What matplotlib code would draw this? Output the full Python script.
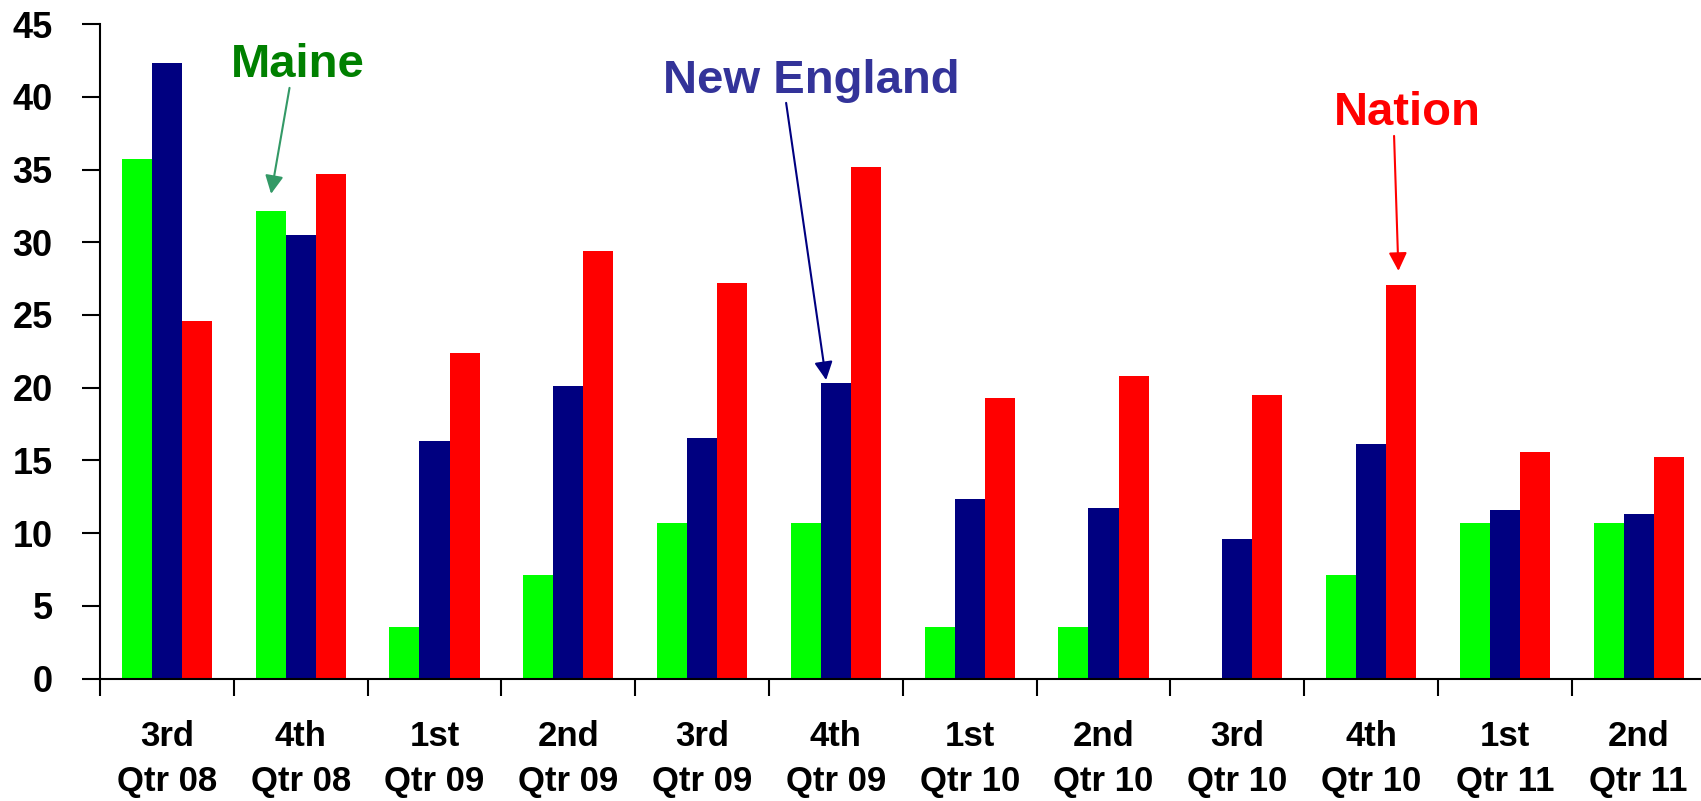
import numpy as np
import matplotlib.pyplot as plt

plt.rcParams['font.family'] = ['Liberation Sans', 'DejaVu Sans']
plt.rcParams['font.weight'] = 'bold'

quarters = ['3rd\nQtr 08', '4th\nQtr 08', '1st\nQtr 09', '2nd\nQtr 09', '3rd\nQtr 09', '4th\nQtr 09',
            '1st\nQtr 10', '2nd\nQtr 10', '3rd\nQtr 10', '4th\nQtr 10', '1st\nQtr 11', '2nd\nQtr 11']
maine = [35.71, 32.14, 3.57, 7.14, 10.71, 10.71, 3.57, 3.57, 0, 7.14, 10.71, 10.71]
new_england = [42.3, 30.47, 16.32, 20.14, 16.52, 20.34, 12.35, 11.71, 9.58, 16.1, 11.62, 11.3]
nation = [24.6, 34.7, 22.36, 29.4, 27.17, 35.15, 19.27, 20.78, 19.5, 27.04, 15.56, 15.24]
yticks = [0, 5, 10, 15, 20, 25, 30, 35, 40, 45]

fig = plt.figure(figsize=(17.01, 8.01), dpi=100)
ax = fig.add_axes([100 / 1701, 0.1527, 1605.6 / 1701, 0.8173])

x = np.arange(len(quarters))
w = 0.225
ax.bar(x - w, maine, w, color='#00FF00')
ax.bar(x, new_england, w, color='#000080')
ax.bar(x + w, nation, w, color='#FF0000')

ax.set_xlim(-0.5, 11.5)
ax.set_ylim(0, 45)
ax.set_yticks(yticks)
ax.tick_params(axis='y', length=13, width=1.5, pad=21, labelsize=26)

# ticks between categories, labels at the centres
ax.set_xticks(np.arange(-0.5, 12, 1))
ax.set_xticklabels([])
ax.tick_params(axis='x', which='major', length=12, width=1.5)
ax.set_xticks(x, minor=True)
ax.set_xticklabels(quarters, minor=True, fontsize=25, linespacing=1.45)
ax.tick_params(axis='x', which='minor', length=0, pad=30)

for s in ['top', 'right']:
    ax.spines[s].set_visible(False)
ax.spines['left'].set_linewidth(1.5)
ax.spines['bottom'].set_linewidth(1.5)

head = '-|>,head_width=0.55,head_length=1.1'

# labels with arrows
ax.text(0.976, 41.33, 'Maine', color='#008000', fontsize=34, ha='center', va='baseline')
ax.annotate('', xy=(1 - w, maine[1] + 1.0), xytext=(0.92, 40.8),
            arrowprops=dict(arrowstyle=head, color='#339966', lw=1.5))

ax.text(4.818, 40.23, 'New England', color='#333399', fontsize=34, ha='center', va='baseline')
ax.annotate('', xy=(5 - 0.07, new_england[5]), xytext=(4.625, 39.77),
            arrowprops=dict(arrowstyle=head, color='#000080', lw=1.5))

ax.text(9.272, 38.05, 'Nation', color='#FF0000', fontsize=34, ha='center', va='baseline')
ax.annotate('', xy=(9 + w - 0.02, nation[9] + 0.8), xytext=(9.171, 37.5),
            arrowprops=dict(arrowstyle=head, color='#FF0000', lw=1.5))

fig.savefig('out.png', dpi=100)
